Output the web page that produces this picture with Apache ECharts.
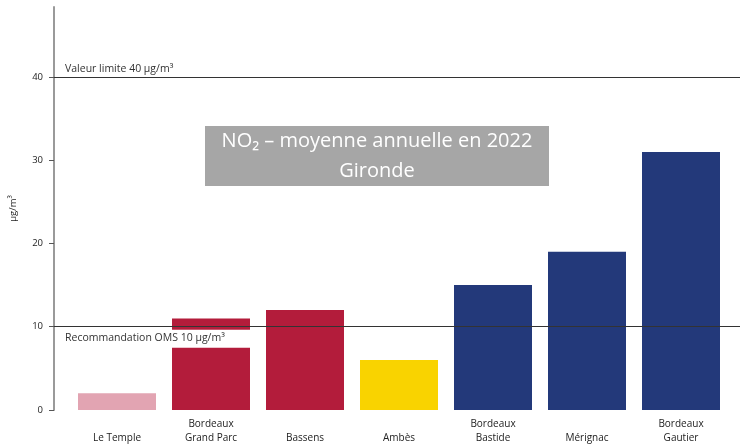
<!DOCTYPE html>
<html>
<head>
<meta charset="utf-8">
<script src="https://cdn.jsdelivr.net/npm/echarts@6/dist/echarts.min.js"></script>
<style>
html,body{margin:0;padding:0;background:#fff;}
#chart{width:740px;height:445px;}
</style>
</head>
<body>
<div id="chart"></div>
<script>
const categories = ['Le Temple', 'Bordeaux\nGrand Parc', 'Bassens', 'Ambès', 'Bordeaux\nBastide', 'Mérignac', 'Bordeaux\nGautier'];
const values = [2, 11, 12, 6, 15, 19, 31];
const barColors = ['#e2a4b2', '#b31c3b', '#b31c3b', '#f9d300', '#23397a', '#23397a', '#23397a'];
const yTicks = [0, 10, 20, 30, 40];
const limitValue = 40;
const omsValue = 10;
const limitLabel = 'Valeur limite 40 µg/m³';
const omsLabel = 'Recommandation OMS 10 µg/m³';
const titleLines = ['NO₂ – moyenne annuelle en 2022', 'Gironde'];
const yName = 'µg/m³';

const FONT = '"Open Sans", "Noto Sans", sans-serif';
const YMAX = 48.4;

const chart = echarts.init(document.getElementById('chart'), null, {renderer: 'canvas'});
chart.setOption({
  animation: false,
  backgroundColor: '#ffffff',
  textStyle: {fontFamily: FONT},
  grid: [
    {left: 53, right: 0, top: 7, bottom: 35},
    {left: 70, right: 12, top: 7, bottom: 35}
  ],
  xAxis: [
    {gridIndex: 0, type: 'value', min: 0, max: 1, show: false},
    {
      gridIndex: 1, type: 'category', data: categories,
      axisLine: {show: false}, axisTick: {show: false},
      axisLabel: {
        color: '#222', fontSize: 10, fontFamily: FONT, lineHeight: 14,
        verticalAlign: 'bottom', margin: 35, interval: 0
      }
    }
  ],
  yAxis: [
    {
      gridIndex: 0, type: 'value', min: 0, max: YMAX, interval: 10,
      name: yName, nameLocation: 'middle', nameGap: 36, nameRotate: 90,
      nameTextStyle: {fontSize: 9.5, color: '#222', fontFamily: FONT},
      axisLine: {show: true, lineStyle: {color: '#9a9a9a', width: 2}},
      axisTick: {show: true, length: 5, lineStyle: {color: '#555', width: 1}, customValues: yTicks},
      axisLabel: {
        color: '#222', fontSize: 9.5, margin: 11, customValues: yTicks,
        formatter: function (v) { return String(v); }
      },
      splitLine: {show: false}
    },
    {gridIndex: 1, type: 'value', min: 0, max: YMAX, show: false}
  ],
  series: [
    {
      type: 'bar', xAxisIndex: 1, yAxisIndex: 1, z: 2,
      barWidth: 78,
      data: values.map((v, i) => ({value: v, itemStyle: {color: barColors[i]}}))
    },
    {
      type: 'line', xAxisIndex: 0, yAxisIndex: 0, z: 5, data: [],
      markLine: {
        silent: true, symbol: 'none', z: 5,
        lineStyle: {color: '#333', width: 1, type: 'solid'},
        data: [
          {
            yAxis: limitValue,
            label: {
              position: 'insideStartTop', formatter: limitLabel,
              color: '#333', fontSize: 10.5, fontFamily: FONT, distance: [11, 2]
            }
          },
          {
            yAxis: omsValue,
            label: {
              position: 'insideStartBottom', formatter: omsLabel,
              color: '#333', fontSize: 10.5, fontFamily: FONT, distance: [6, 3],
              backgroundColor: '#ffffff', padding: [3, 38, 4, 5]
            }
          }
        ]
      }
    }
  ],
  graphic: [
    {
      type: 'group', left: 205, top: 126, z: 10,
      children: [
        {type: 'rect', shape: {x: 0, y: 0, width: 344, height: 60}, style: {fill: '#a6a6a6'}},
        {
          type: 'text', x: 172, y: 30,
          style: {
            text: titleLines.join('\n'), fill: '#ffffff', font: '20px ' + FONT,
            align: 'center', verticalAlign: 'middle', lineHeight: 30
          }
        }
      ]
    }
  ]
});
</script>
</body>
</html>
